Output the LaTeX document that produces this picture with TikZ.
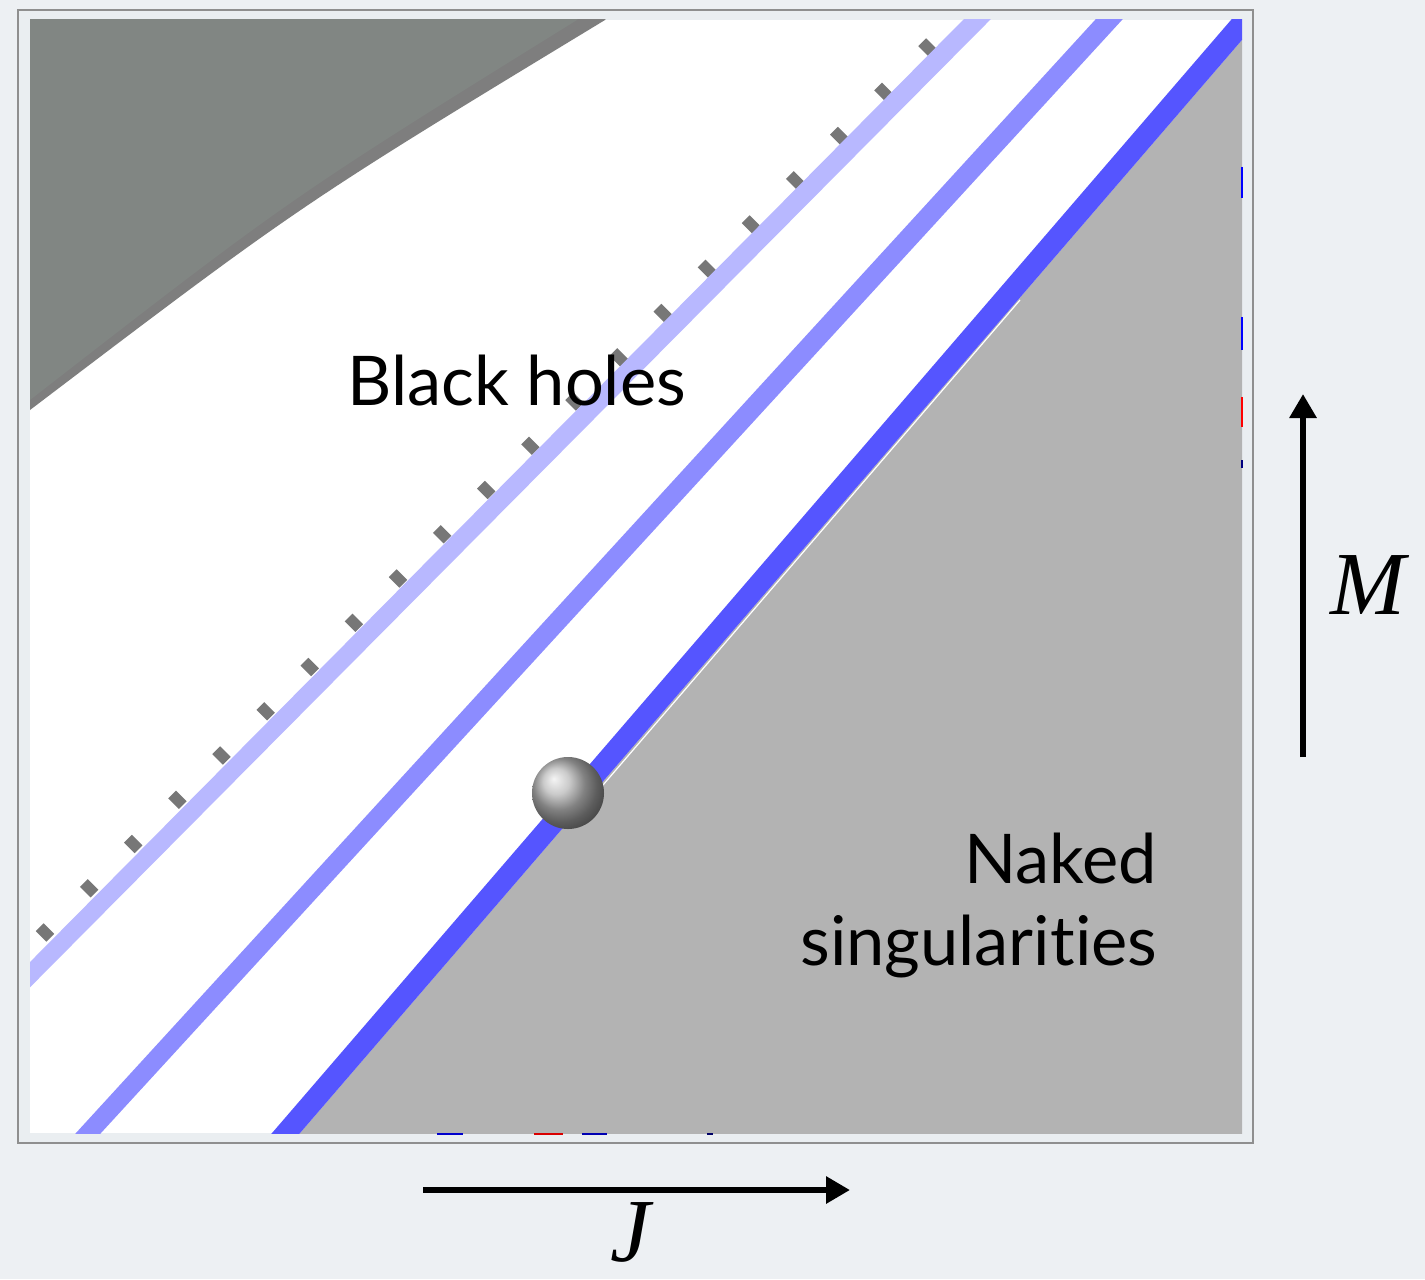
\documentclass[tikz,border=0pt]{standalone}
\usepackage{fontspec}
\setmainfont{Lato}[Ligatures=NoCommon]
\newfontfamily\tnr{Liberation Serif}
\usetikzlibrary{arrows.meta}
\definecolor{bgc}{HTML}{EDF0F3}
\definecolor{framefill}{HTML}{EAEEF1}
\definecolor{framedraw}{HTML}{8F8F8F}
\definecolor{darkreg}{HTML}{818683}
\definecolor{darkband}{HTML}{7E7E7E}
\definecolor{stripeA}{HTML}{B8B8FF}
\definecolor{stripeB}{HTML}{8C8CFF}
\definecolor{stripeC}{HTML}{5555FF}
\definecolor{nakedgray}{HTML}{B3B3B3}
\definecolor{markc}{HTML}{777777}
\begin{document}
\begin{tikzpicture}[x=0.01cm,y=-0.01cm,
  lbl/.style={inner sep=0pt, font=\fontsize{19.5}{24}\selectfont},
  axlbl/.style={inner sep=0pt, font=\tnr\itshape\fontsize{25.6}{30}\selectfont},
  axarrow/.style={line width=0.06cm, -{Triangle[length=0.24cm,width=0.26cm]}},
  markbox/.style={rectangle, fill=markc, inner sep=0pt, minimum width=0.15cm, minimum height=0.11cm, rotate=-45},
  tickmark/.style={line width=0.02cm}]
\useasboundingbox (0,0) rectangle (1425,1279);
\fill[bgc] (0,0) rectangle (1425,1279);
% frame
\filldraw[fill=framefill, draw=framedraw, line width=0.02cm] (18,10) rectangle (1253,1143);
\fill[white] (30,20) rectangle (1242,1133);
\begin{scope}
\clip (30,20) rectangle (1242,1133);
% dark region top-left
\fill[darkband] (20,10) -- (612,10) -- (605,20) .. controls (300,205) .. (30,410) -- (20,420) -- cycle;
\fill[darkreg] (20,10) -- (584,10) -- (577,20) .. controls (290,198) .. (30,400) -- (20,410) -- cycle;
% naked singularity region
\fill[nakedgray] (285.4,1150) -- (1276.4,0) -- (1300,0) -- (1300,1150) -- cycle;
\draw[white, line width=0.012cm] (597,792) -- (1020,300);
% markers
\foreach \i in {0,...,20}{
  \node[markbox] (m\i) at ({927.5-44.125*\i},{47.5+44.25*\i}) {};
}
% stripes
\fill[stripeA] (982.8,0) -- (1009.8,0) -- (17.4,1000) -- (-7.6,1000) -- cycle;
\fill[stripeB] (1113.3,0) -- (1140.3,0) -- (85.4,1150) -- (60.4,1150) -- cycle;
\fill[stripeC] (1248.2,0) -- (1276.4,0) -- (285.4,1150) -- (257.4,1150) -- cycle;
\end{scope}
% small ticks on right edge
\draw[tickmark, blue] (1242,167) -- (1242,198);
\draw[tickmark, blue] (1242,317) -- (1242,350);
\draw[tickmark, red] (1242,397) -- (1242,427);
\draw[tickmark, blue!50!black] (1242,460) -- (1242,468);
% small ticks on bottom edge
\draw[tickmark, blue!80!black] (437,1134) -- (463,1134);
\draw[tickmark, red!85!black] (534,1134) -- (563,1134);
\draw[tickmark, blue!70!black] (582,1134) -- (607,1134);
\draw[tickmark, blue!40!black] (707,1134) -- (713,1134);
% sphere
\shade[ball color=gray!55] (568,793) circle (36);
\node[inner sep=0pt] (ball) at (568,793) {};
% labels
\node[lbl, anchor=base west] (bh) at (347,405) {Black holes};
\node[lbl, anchor=base east] (ns1) at (1158,883) {Naked};
\node[lbl, anchor=base east] (ns2) at (1158,965) {singularities};
% axes arrows
\coordinate (jstart) at (423,1190);
\coordinate (jend) at (850,1190);
\coordinate (mstart) at (1303,757);
\coordinate (mend) at (1303,394);
\draw[axarrow] (jstart) -- (jend);
\draw[axarrow] (mstart) -- (mend);
\node[axlbl] (jl) at (630,1232) {J};
\node[axlbl] (ml) at (1368,585) {M};
\end{tikzpicture}
\end{document}
